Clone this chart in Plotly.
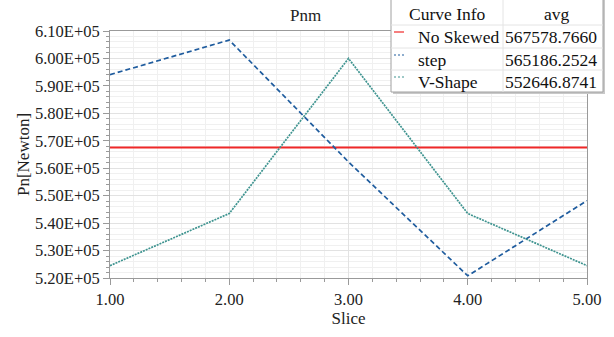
import plotly.graph_objects as go

slices = [1, 2, 3, 4, 5]
no_skewed = [567578.766, 567578.766, 567578.766, 567578.766, 567578.766]
step = [594100, 606700, 562300, 520800, 548200]
v_shape = [524500, 543500, 600000, 543500, 524500]

series_names = ["No Skewed", "step", "V-Shape"]
series_avg = ["567578.7660", "565186.2524", "552646.8741"]
series_colors = ["#f02828", "#1f5c9e", "#3f9490"]
series_dash = ["solid", "5px,3px", "2px,1px"]

y_tickvals = [520000, 530000, 540000, 550000, 560000, 570000, 580000, 590000, 600000, 610000]
y_ticktext = ["5.20E+05", "5.30E+05", "5.40E+05", "5.50E+05", "5.60E+05",
              "5.70E+05", "5.80E+05", "5.90E+05", "6.00E+05", "6.10E+05"]
x_tickvals = [1, 2, 3, 4, 5]
x_ticktext = ["1.00", "2.00", "3.00", "4.00", "5.00"]

W, H = 614, 337
L, R, T, B = 110, 587, 31, 278
FONT = "Liberation Serif"


def px(x):
    return (x - L) / (R - L)


def py(y):
    return (B - y) / (B - T)


fig = go.Figure()
for name, vals, col, dash in zip(series_names, [no_skewed, step, v_shape], series_colors, series_dash):
    fig.add_trace(go.Scatter(x=slices, y=vals, mode="lines", name=name,
                             line=dict(color=col, width=2 if dash == "solid" else 1.7, dash=dash),
                             showlegend=False))

axis_common = dict(
    showline=True, linecolor="#9a9a9a", linewidth=1, mirror=True,
    ticks="outside", tickcolor="#9a9a9a", ticklen=6, automargin=False,
    gridcolor="#e2e2e2", gridwidth=1, zeroline=False,
    tickfont=dict(family=FONT, size=16.5, color="#222"),
)

fig.update_xaxes(range=[1, 5], tickvals=x_tickvals, ticktext=x_ticktext,
                 title=dict(text="Slice", font=dict(family=FONT, size=17, color="#222"), standoff=4),
                 minor=dict(dtick=0.2, showgrid=True, gridcolor="#f0f0f0", ticks="outside",
                            ticklen=3, tickcolor="#9a9a9a"),
                 **axis_common)
fig.update_yaxes(range=[520000, 610000], tickvals=y_tickvals, ticktext=y_ticktext,
                 title=dict(text="Pn[Newton]", font=dict(family=FONT, size=17, color="#222"), standoff=0),
                 minor=dict(dtick=2000, showgrid=True, gridcolor="#f0f0f0", ticks="outside",
                            ticklen=3, tickcolor="#9a9a9a"),
                 **axis_common)

shapes = []
annotations = []
# legend table
bx0, bx1, by0, by1 = 391, 603, 0, 92
col_div = 503
row_lines = [25, 48, 70]
shapes.append(dict(type="rect", xref="paper", yref="paper", x0=px(bx0 + 2), x1=px(bx1 + 2),
                   y0=py(by1 + 2), y1=py(by0), fillcolor="#c8c8c8", line=dict(width=0)))
shapes.append(dict(type="rect", xref="paper", yref="paper", x0=px(bx0), x1=px(bx1),
                   y0=py(by1), y1=py(by0 - 5), fillcolor="white", line=dict(color="#a0a0a0", width=1)))
for ry in row_lines:
    shapes.append(dict(type="line", xref="paper", yref="paper", x0=px(bx0), x1=px(bx1),
                       y0=py(ry), y1=py(ry), line=dict(color="#e4e4e4", width=1)))
shapes.append(dict(type="line", xref="paper", yref="paper", x0=px(col_div), x1=px(col_div),
                   y0=py(by1), y1=py(by0 - 5), line=dict(color="#e4e4e4", width=1)))

tf = dict(family=FONT, size=17.5, color="#111")
annotations.append(dict(text="Curve Info", x=px(447), y=py(14), xref="paper", yref="paper",
                        showarrow=False, font=tf, xanchor="center", yanchor="middle"))
annotations.append(dict(text="avg", x=px(557), y=py(14), xref="paper", yref="paper",
                        showarrow=False, font=tf, xanchor="center", yanchor="middle"))
row_y = [37, 60, 82]
for name, avg, col, dash, ry in zip(series_names, series_avg, series_colors, series_dash, row_y):
    shapes.append(dict(type="line", xref="paper", yref="paper", x0=px(394), x1=px(404),
                       y0=py(ry - 5), y1=py(ry - 5),
                       line=dict(color=col, width=1.2, dash="solid" if dash == "solid" else "2px,2px")))
    annotations.append(dict(text=name, x=px(416), y=py(ry), xref="paper", yref="paper",
                            showarrow=False, font=tf, xanchor="left", yanchor="middle"))
    annotations.append(dict(text=avg, x=px(503), y=py(ry), xref="paper", yref="paper",
                            showarrow=False, font=tf, xanchor="left", yanchor="middle"))

annotations.append(dict(text="Pnm", x=px(305), y=py(15), xref="paper", yref="paper",
                        showarrow=False, font=dict(family=FONT, size=17, color="#222"),
                        xanchor="center", yanchor="middle"))

fig.update_layout(width=W, height=H, margin=dict(l=L, r=W - R, t=T, b=H - B),
                  plot_bgcolor="white", paper_bgcolor="white",
                  shapes=shapes, annotations=annotations)

fig.write_html("out.html", config={"displayModeBar": False},
               post_script="document.body.style.margin='0';document.body.style.overflow='hidden';")
